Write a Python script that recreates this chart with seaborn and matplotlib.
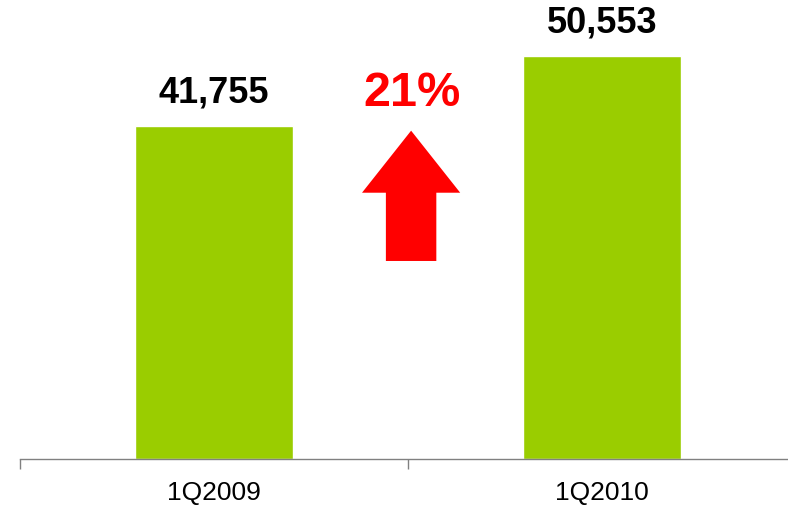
import matplotlib
matplotlib.use("Agg")
import matplotlib.pyplot as plt
import seaborn as sns
import pandas as pd
from matplotlib.patches import FancyArrow

quarters = ["1Q2009", "1Q2010"]
revenue = [41755, 50553]
growth_label = "21%"

df = pd.DataFrame({"quarter": quarters, "revenue": revenue})

sns.set_theme(style="white")
plt.rcParams["font.family"] = ["Liberation Sans", "DejaVu Sans"]

fig = plt.figure(figsize=(7.88, 5.05), dpi=100)
ax = fig.add_axes([20 / 788, 46 / 505, 776 / 788, 459 / 505])

sns.barplot(data=df, x="quarter", y="revenue", color="#9ACD00", saturation=1,
            width=0.405, ax=ax)

ax.set_xlim(-0.5, 1.5)
ax.set_ylim(0, 57555)

# value labels above bars
for i, v in enumerate(revenue):
    ax.annotate(f"{v:,}", (i, v), xytext=(0, 24), textcoords="offset points",
                ha="center", va="center", fontsize=26, fontweight="bold", color="black")

# growth arrow + label between the bars
arrow = FancyArrow(0.508, 24830, 0, 41170 - 24830, width=0.13, head_width=0.253,
                   head_length=7780, length_includes_head=True,
                   color="#FF0000", linewidth=0)
ax.add_patch(arrow)
ax.text(0.51, 45800, growth_label, ha="center", va="center",
        fontsize=35, fontweight="bold", color="#FF0000")

# axes styling
for s in ["top", "right", "left"]:
    ax.spines[s].set_visible(False)
ax.spines["bottom"].set_color("#808080")
ax.spines["bottom"].set_linewidth(1)
ax.set_yticks([])
ax.set_xlabel("")
ax.set_ylabel("")
ax.set_xticks([0, 1])
ax.set_xticklabels(quarters, fontsize=19, color="black")
ax.tick_params(axis="x", which="major", length=0, pad=16)
ax.set_xticks([-0.5, 0.5, 1.5], minor=True)
ax.tick_params(axis="x", which="minor", length=7, width=1, color="#808080",
               direction="out", bottom=True)

fig.savefig("out.png", dpi=100)
